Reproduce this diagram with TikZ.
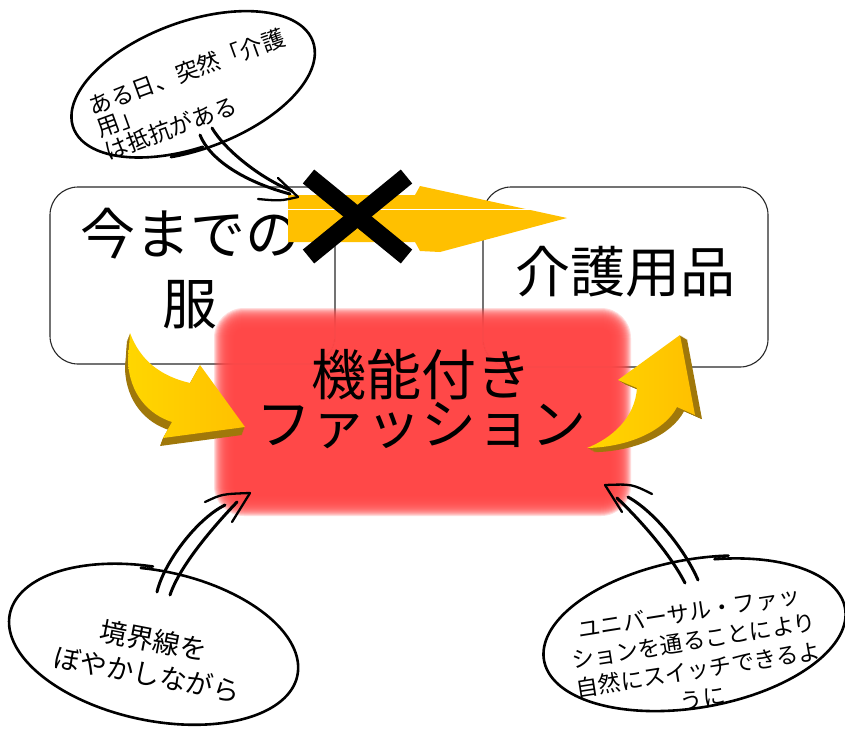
\documentclass[tikz,border=0pt]{standalone}
\usepackage{fontspec}
\newfontfamily\jp{Noto Sans CJK JP}
\newcommand\tightlines{\setlength{\lineskiplimit}{-100pt}\setlength{\lineskip}{0pt}}
\definecolor{boxline}{RGB}{40,40,40}
\definecolor{redbox}{RGB}{255,72,72}
\definecolor{gold}{RGB}{255,192,0}
\definecolor{goldlight}{RGB}{255,214,0}
\definecolor{golddark}{RGB}{160,120,10}
\begin{document}
\begin{tikzpicture}[x=1pt,y=-1pt,
  boxst/.style={draw=boxline, line width=1.1pt, rounded corners=28pt, inner sep=0pt},
  bigtxt/.style={font=\jp\fontsize{55}{70}\selectfont, inner sep=0pt, align=center},
  sketch/.style={line width=3pt, line cap=round, line join=round},
  barb/.style={line width=2.3pt, line cap=round},
  bubble/.style={line width=2.6pt, line cap=round}]
\useasboundingbox (0,0) rectangle (845,729);
\fill[white] (0,0) rectangle (845,729);

% boxes
\node[boxst, minimum width=285pt, minimum height=177pt] (oldbox) at (192.5,275.5) {};
\node[boxst, minimum width=285pt, minimum height=180pt] (carebox) at (625.5,277) {};
\node[bigtxt] (oldtxt) at (190,269) {今までの\\服};
\node[bigtxt] (caretxt) at (625,272) {介護用品};

% red glowing box
\foreach \d in {-10,...,10}{
  \fill[redbox, opacity=0.18, rounded corners={(20+\d)*1pt}]
    ({224-\d},{318-\d}) rectangle ({621+\d},{506+\d});
}
\node[font=\jp\fontsize{55}{49.5}\selectfont\tightlines, align=center, inner sep=0pt] (func) at (421,399) {機能付き\\ファッション};

% top straight arrow
\fill[gold] (288,195) -- (415,195) .. controls (418,191) .. (420,186) -- (567,218) -- (440,252) -- (420,251) .. controls (418,246) .. (415,242) -- (288,242) -- cycle;
\draw[white, line width=1pt] (288,209) -- (530,209);
% cross
\draw[line width=18pt] (308.5,176.5) -- (406.5,256.5);
\draw[line width=18pt] (406.5,176.5) -- (308.5,256.5);

% left curved 3D arrow
\def\leftpath{(130,333) .. controls (140,360) and (160,376) .. (190,383) -- (200,365) -- (245,427) -- (163,438) -- (172,422) .. controls (150,415) and (129,395) .. (128,360) -- cycle}
\foreach \k in {1,...,8}{
  \fill[golddark, shift={({-0.375*\k},{\k})}] \leftpath;
}
\shade[left color=goldlight, right color=gold] \leftpath;

% right curved 3D arrow
\def\rightpath{(587,448) .. controls (612,438) and (635,418) .. (637,388) -- (618,380) -- (680,335) -- (695,415) -- (677,407) .. controls (665,430) and (630,447) .. (587,448) -- cycle}
\foreach \k in {1,...,7}{
  \fill[golddark, shift={({\k},{0.6*\k})}] \rightpath;
}
\shade[left color=goldlight, right color=gold] \rightpath;

% callout 1
\begin{scope}[shift={(192,85)}, rotate=20]
  \draw[bubble] plot[domain=95:470, samples=100, smooth] ({125*(1+0.04*(\x-95)/375)*cos(\x)}, {62*(1+0.04*(\x-95)/375)*sin(\x)});
\end{scope}
\node[rotate=20, align=left, inner sep=0pt, font=\jp\fontsize{23}{24}\selectfont] (c1) at (195,94) {ある日、突然「介護\\用」\\は抵抗がある};
\coordinate (a1s) at (200,135);
\coordinate (a1e) at (290,194);
\coordinate (a2s) at (212,128);
\coordinate (a2e) at (292,191);
\coordinate (atip) at (298,197);
\coordinate (ab1) at (278,178);
\coordinate (ab2) at (258,199);
\draw[sketch] (a1s) .. controls (210,160) and (245,182) .. (a1e);
\draw[sketch] (a2s) .. controls (225,150) and (260,178) .. (a2e);
\draw[barb] (ab1) -- (atip);
\draw[barb] (ab2) .. controls (280,201) .. (atip);

% callout 2
\begin{scope}[shift={(155,645)}, rotate=-12]
  \draw[bubble] plot[domain=258:623, samples=100, smooth] ({144*(1+0.04*(\x-258)/365)*cos(\x)}, {74*(1+0.04*(\x-258)/365)*sin(\x)});
\end{scope}
\node[rotate=-11, align=center, inner sep=0pt, font=\jp\fontsize{27}{34.5}\selectfont] (c2) at (150.5,657) {境界線を\\ぼやかしながら};
\coordinate (b1s) at (157,592);
\coordinate (b1e) at (225,505);
\coordinate (b2s) at (170,595);
\coordinate (b2e) at (237,502);
\coordinate (btip) at (250,493);
\coordinate (bb1) at (205,502);
\coordinate (bb2) at (232,522);
\draw[sketch] (b1s) .. controls (163,565) and (195,520) .. (b1e);
\draw[sketch] (b2s) .. controls (180,565) and (215,525) .. (b2e);
\draw[barb] (bb1) .. controls (222,494) .. (btip);
\draw[barb] (bb2) -- (btip);

% callout 3
\begin{scope}[shift={(696,634)}, rotate=10]
  \draw[bubble] plot[domain=282:647, samples=100, smooth] ({150*(1+0.04*(\x-282)/365)*cos(\x)}, {72*(1+0.04*(\x-282)/365)*sin(\x)});
\end{scope}
\node[rotate=9, align=center, inner sep=0pt, font=\jp\fontsize{22.5}{29}\selectfont] (c3) at (696,655) {ユニバーサル・ファッ\\ションを通ることにより\\自然にスイッチできるよ\\うに};
\coordinate (d1s) at (685,583);
\coordinate (d1e) at (617,498);
\coordinate (d2s) at (698,580);
\coordinate (d2e) at (628,497);
\coordinate (dtip) at (605,485);
\coordinate (db1) at (652,494);
\coordinate (db2) at (622,512);
\draw[sketch] (d1s) .. controls (668,550) and (635,515) .. (d1e);
\draw[sketch] (d2s) .. controls (685,550) and (655,512) .. (d2e);
\draw[barb] (db1) .. controls (632,484) .. (dtip);
\draw[barb] (db2) -- (dtip);
\end{tikzpicture}
\end{document}
